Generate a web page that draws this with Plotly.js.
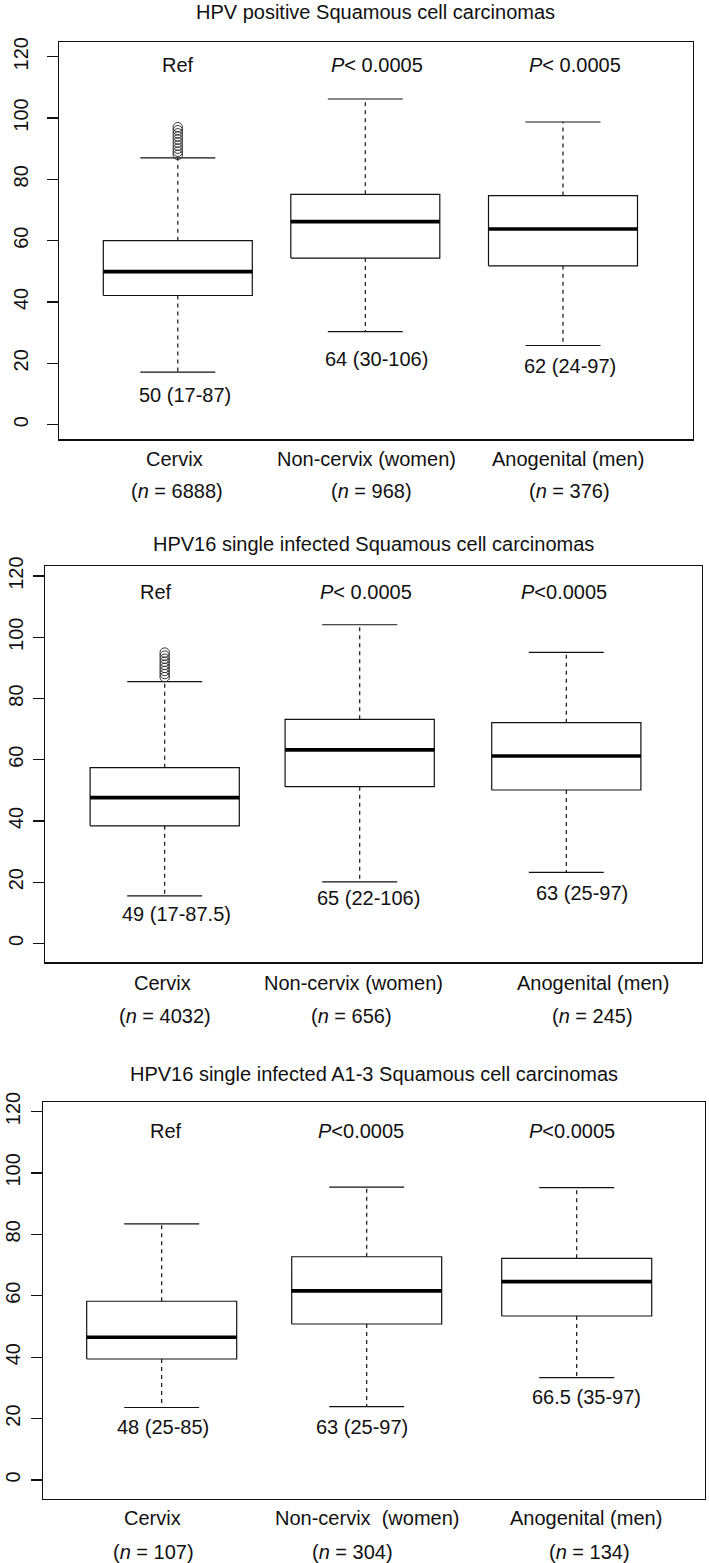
<!DOCTYPE html>
<html><head><meta charset="utf-8">
<script src="https://cdn.plot.ly/plotly-3.0.1.min.js"></script>
<style>html,body{margin:0;padding:0;background:#fff}#chart{width:709px;height:1563px}</style>
</head><body><div id="chart"></div><script>
// ---------------- DATA ----------------
const panelTitles = [
  "HPV positive Squamous cell carcinomas",
  "HPV16 single infected Squamous cell carcinomas",
  "HPV16 single infected A1-3 Squamous cell carcinomas"
];
const groups1 = ["Cervix", "Non-cervix (women)", "Anogenital (men)"];
const groups2 = ["Cervix", "Non-cervix (women)", "Anogenital (men)"];
const groups3 = ["Cervix", "Non-cervix\u00a0 (women)", "Anogenital (men)"];
const n1 = [6888, 968, 376];
const n2 = [4032, 656, 245];
const n3 = [107, 304, 134];

// box statistics (age, years)
const lower1  = [17.1, 30.3, 25.8];
const q1_1    = [42.1, 54.3, 51.8];
const median1 = [49.9, 66.2, 63.8];
const q3_1    = [60.0, 75.1, 74.7];
const upper1  = [87.0, 106.2, 98.7];
const outliers1 = [88, 89, 90, 91, 92, 93, 94, 95, 96, 97];

const lower2  = [15.5, 20.1, 23.2];
const q1_2    = [38.4, 51.2, 50.1];
const median2 = [47.6, 63.2, 61.2];
const q3_2    = [57.4, 73.2, 72.1];
const upper2  = [85.5, 104.1, 95.1];
const outliers2 = [87, 88, 89, 90, 91, 92, 93, 94, 95];

const lower3  = [23.6, 23.9, 33.3];
const q1_3    = [39.4, 50.8, 53.4];
const median3 = [46.5, 61.6, 64.6];
const q3_3    = [58.2, 72.7, 72.2];
const upper3  = [83.4, 95.4, 95.2];
const outliers3 = [];

const pText1 = ["Ref", "<i>P</i>&lt; 0.0005", "<i>P</i>&lt; 0.0005"];
const pText2 = ["Ref", "<i>P</i>&lt; 0.0005", "<i>P</i>&lt;0.0005"];
const pText3 = ["Ref", "<i>P</i>&lt;0.0005", "<i>P</i>&lt;0.0005"];

const summary1 = ["50 (17-87)", "64 (30-106)", "62 (24-97)"];
const summary2 = ["49 (17-87.5)", "65 (22-106)", "63 (25-97)"];
const summary3 = ["48 (25-85)", "63 (25-97)", "66.5 (35-97)"];

const yTicks = [0, 20, 40, 60, 80, 100, 120];

// ---------------- LAYOUT CONSTANTS (pixels) ----------------
const W = 709, H = 1563;
const FONT = "Liberation Sans, Arial, Helvetica, sans-serif";
const FS = 20;
const INK = "#111";
const panels = [
  { frame: {l: 59.3, r: 692.7, t: 42, b: 439.3}, yr: [-4.8, 124.8],
    pos: [177.8, 365.3, 563.0], hw: 74.5, cw: 37.5,
    titleY: 11.7, pY: 117.3, pX: [178.3, 376.7, 575.0],
    sumX: [185.0, 376.7, 570.0], sumY: [9.5, 21.4, 19.2],
    lab1X: [174.2, 366.5, 568.0], lab2X: [176.5, 371.0, 569.5], lab1Y: 459.3, lab2Y: 490.7,
    stand: 11,
    groups: groups1, n: n1, lo: lower1, q1: q1_1, med: median1, q3: q3_1, hi: upper1, out: outliers1,
    p: pText1, sum: summary1 },
  { frame: {l: 45.0, r: 701.7, t: 566, b: 962.3}, yr: [-6.2, 123.3],
    pos: [164.7, 359.7, 566.3], hw: 74.6, cw: 37.5,
    titleY: 544, pY: 114.8, pX: [156.3, 365.8, 564.0],
    sumX: [176.7, 368.3, 582.0], sumY: [9.5, 14.9, 16.3],
    lab1X: [162.4, 353.4, 592.8], lab2X: [164.5, 351.8, 592.8], lab1Y: 982.7, lab2Y: 1016,
    stand: 2,
    groups: groups2, n: n2, lo: lower2, q1: q1_2, med: median2, q3: q3_2, hi: upper2, out: outliers2,
    p: pText2, sum: summary2 },
  { frame: {l: 43.3, r: 705.0, t: 1102, b: 1499}, yr: [-6.2, 123.1],
    pos: [161.7, 366.7, 576.7], hw: 75.0, cw: 37.5,
    titleY: 1074, pY: 113.7, pX: [165.8, 360.8, 572.0],
    sumX: [163.3, 361.7, 586.0], sumY: [17.4, 17.4, 26.9],
    lab1X: [152.7, 366.5, 586.0], lab2X: [153.0, 352.5, 589.0], lab1Y: 1518.3, lab2Y: 1551.7,
    stand: 3,
    groups: groups3, n: n3, lo: lower3, q1: q1_3, med: median3, q3: q3_3, hi: upper3, out: outliers3,
    p: pText3, sum: summary3 }
];

const traces = [];
const annotations = [];
const layout = {
  width: W, height: H, margin: {l: 0, r: 0, t: 0, b: 0},
  paper_bgcolor: "#fff", plot_bgcolor: "#fff", showlegend: false,
  font: {family: FONT, size: FS, color: INK}, hovermode: false
};

panels.forEach((P, k) => {
  const sfx = k === 0 ? "" : String(k + 1);
  const xa = "x" + sfx, ya = "y" + sfx;
  const bx = [], by = [], mx = [], my = [], wx = [], wy = [], cx = [], cy = [];
  for (let i = 0; i < 3; i++) {
    const c = P.pos[i];
    bx.push(c - P.hw, c + P.hw, c + P.hw, c - P.hw, c - P.hw, null);
    by.push(P.q1[i], P.q1[i], P.q3[i], P.q3[i], P.q1[i], null);
    mx.push(c - P.hw, c + P.hw, null);
    my.push(P.med[i], P.med[i], null);
    wx.push(c, c, null, c, c, null);
    wy.push(P.q3[i], P.hi[i], null, P.q1[i], P.lo[i], null);
    cx.push(c - P.cw, c + P.cw, null, c - P.cw, c + P.cw, null);
    cy.push(P.hi[i], P.hi[i], null, P.lo[i], P.lo[i], null);
  }
  traces.push({type: "scatter", mode: "lines", x: wx, y: wy, xaxis: xa, yaxis: ya,
    line: {color: INK, width: 1.2, dash: "4px,4px"}, hoverinfo: "skip"});
  traces.push({type: "scatter", mode: "lines", x: cx, y: cy, xaxis: xa, yaxis: ya,
    line: {color: INK, width: 1.2}, hoverinfo: "skip"});
  traces.push({type: "scatter", mode: "lines", x: bx, y: by, xaxis: xa, yaxis: ya,
    line: {color: INK, width: 1.2}, hoverinfo: "skip"});
  traces.push({type: "scatter", mode: "lines", x: mx, y: my, xaxis: xa, yaxis: ya,
    line: {color: "#000", width: 3.6}, hoverinfo: "skip"});
  if (P.out.length) {
    traces.push({type: "scatter", mode: "markers", x: P.out.map(() => P.pos[0]), y: P.out,
      xaxis: xa, yaxis: ya, hoverinfo: "skip",
      marker: {symbol: "circle-open", size: 9.5, color: "#333", line: {width: 1, color: "#333"}}});
  }
  const f = P.frame;
  layout["xaxis" + sfx] = {
    domain: [f.l / W, f.r / W], range: [f.l, f.r], anchor: ya,
    showticklabels: false, ticks: "", showgrid: false, zeroline: false,
    showline: true, mirror: true, linecolor: INK, linewidth: 1.3, fixedrange: true
  };
  layout["yaxis" + sfx] = {
    domain: [1 - f.b / H, 1 - f.t / H], range: P.yr, anchor: xa,
    tickvals: yTicks, ticktext: yTicks.map(String), ticks: "outside", ticklen: 11,
    tickwidth: 1.2, tickcolor: INK, tickangle: -90, ticklabelstandoff: P.stand,
    tickfont: {family: FONT, size: FS, color: INK},
    showgrid: false, zeroline: false, showline: true, mirror: true,
    linecolor: INK, linewidth: 1.3, fixedrange: true, automargin: false
  };
  // title
  annotations.push({xref: "paper", yref: "paper", x: (f.l + f.r) / 2 / W, y: 1 - P.titleY / H,
    xanchor: "center", yanchor: "middle", showarrow: false, text: panelTitles[k],
    font: {family: FONT, size: FS, color: INK}});
  for (let i = 0; i < 3; i++) {
    annotations.push({xref: xa, yref: ya, x: P.pX[i], y: P.pY, xanchor: "center", yanchor: "middle",
      showarrow: false, text: P.p[i], font: {family: FONT, size: FS, color: INK}});
    annotations.push({xref: xa, yref: ya, x: P.sumX[i], y: P.sumY[i], xanchor: "center", yanchor: "middle",
      showarrow: false, text: P.sum[i], font: {family: FONT, size: FS, color: INK}});
    annotations.push({xref: xa, yref: "paper", x: P.lab1X[i], y: 1 - P.lab1Y / H, xanchor: "center", yanchor: "middle",
      showarrow: false, text: P.groups[i], font: {family: FONT, size: FS, color: INK}});
    annotations.push({xref: xa, yref: "paper", x: P.lab2X[i], y: 1 - P.lab2Y / H, xanchor: "center", yanchor: "middle",
      showarrow: false, text: "(<i>n</i> = " + P.n[i] + ")", font: {family: FONT, size: FS, color: INK}});
  }
});
layout.annotations = annotations;

Plotly.newPlot("chart", traces, layout, {staticPlot: true, displayModeBar: false});
</script></body></html>
